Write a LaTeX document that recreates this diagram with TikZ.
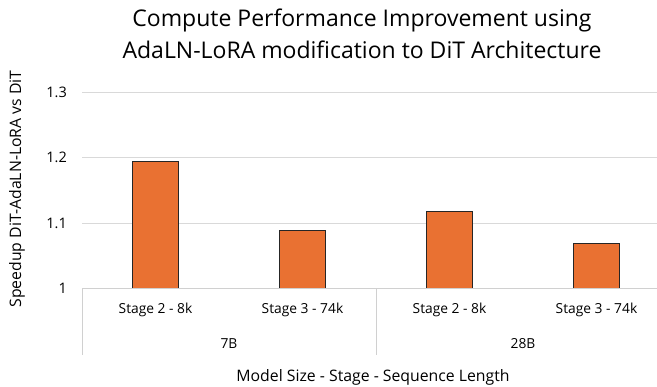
\documentclass[tikz,border=0pt]{standalone}
\usepackage{fontspec}
\setmainfont{Open Sans}
\usepackage{tikz}
\usetikzlibrary{positioning,calc}
\definecolor{barorange}{HTML}{E97132}
\definecolor{gridgray}{HTML}{D9D9D9}
\definecolor{axisgray}{HTML}{D0D0D0}
% value -> vertical position (1 at the category axis, 0.1 = 65.3 units)
\newcommand*{\valy}[1]{288.3-(#1-1)*653}
\tikzset{
  bar/.style={draw=black!85,fill=barorange,line width=0.8pt},
  gridline/.style={draw=gridgray,line width=0.9pt},
  axisline/.style={draw=axisgray,line width=0.9pt},
  ticklbl/.style={anchor=east,inner sep=0pt,font=\fontsize{14.5}{17}\selectfont},
  catlbl/.style={inner sep=0pt,font=\fontsize{13.8}{16}\selectfont},
  axtitle/.style={inner sep=0pt,font=\fontsize{15.8}{19}\selectfont},
  titlelbl/.style={anchor=base,inner sep=0pt,font=\fontsize{23}{27}\selectfont}
}

\begin{document}
\begin{tikzpicture}[x=1pt,y=-1pt]
\useasboundingbox (0,0) rectangle (657,387);
% Plot area runs from (x0) to the right edge
\coordinate (x0) at (82,288.3);
\coordinate (x1) at (376,288.3);
\coordinate (x2) at (670,288.3);
% Gridlines
\draw[gridline] (82,{\valy{1.1}}) coordinate (g11) -- (657,{\valy{1.1}});
\draw[gridline] (82,{\valy{1.2}}) coordinate (g12) -- (657,{\valy{1.2}});
\draw[gridline] (82,{\valy{1.3}}) coordinate (g13) -- (657,{\valy{1.3}});
% Value axis labels
\node[ticklbl] (t10) at (67,288.3) {1};
\node[ticklbl] (t11) at (67,{\valy{1.1}}) {1.1};
\node[ticklbl] (t12) at (67,{\valy{1.2}}) {1.2};
\node[ticklbl] (t13) at (67,{\valy{1.3}}) {1.3};
% Bars
\draw[bar] (132.5,288.3) rectangle (178.5,{\valy{1.195}});
\draw[bar] (279.5,288.3) rectangle (325.5,{\valy{1.088}});
\draw[bar] (426.5,288.3) rectangle (472.5,{\valy{1.117}});
\draw[bar] (573.5,288.3) rectangle (619.5,{\valy{1.068}});
% Category axis with group dividers
\draw[axisline] (x0) -- (x2);
\draw[axisline] (x0) -- ++(0,67);
\draw[axisline] (x1) -- ++(0,67);
\draw[axisline] (x2) -- ++(0,67);
\node[catlbl] (s2a) at (155.5,310) {Stage 2 - 8k};
\node[catlbl] (s3a) at (302.5,310) {Stage 3 - 74k};
\node[catlbl] (s2b) at (449.5,310) {Stage 2 - 8k};
\node[catlbl] (s3b) at (596.5,310) {Stage 3 - 74k};
\node[catlbl] (m7) at (229,344) {7B};
\node[catlbl] (m28) at (523,344) {28B};
% Axis titles
\node[axtitle] (xtitle) at (373,377) {Model Size - Stage - Sequence Length};
\node[axtitle,rotate=90] (ytitle) at (17,189) {Speedup DiT-AdaLN-LoRA vs DiT};
% Chart title
\node[titlelbl] (title1) at (362,27) {Compute Performance Improvement using};
\node[titlelbl] (title2) at (362,59) {AdaLN-LoRA modification to DiT Architecture};
\end{tikzpicture}
\end{document}
